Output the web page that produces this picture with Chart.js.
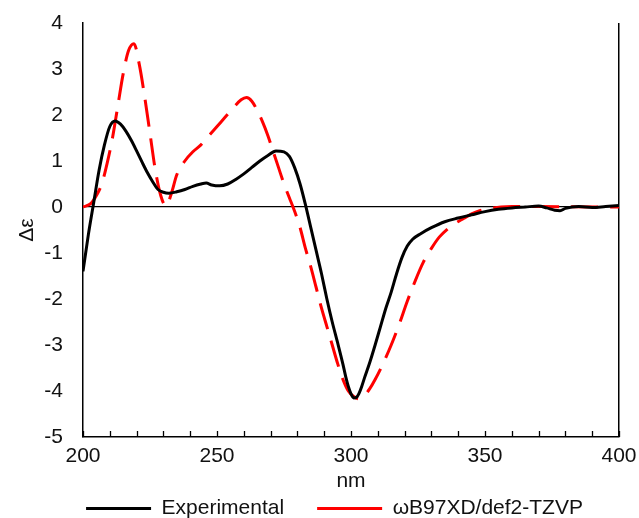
<!DOCTYPE html>
<html>
<head>
<meta charset="utf-8">
<script src="https://cdn.jsdelivr.net/npm/chart.js@4"></script>
<style>
  html, body { margin: 0; padding: 0; background: #fff; }
  #wrap { width: 639px; height: 518px; }
</style>
</head>
<body>
<div id="wrap"><canvas id="cdChart"></canvas></div>
<script>
// ---------- DATA ----------
const expNm = [200,202,204,206,208,210,212,214,216,218,220,222,224,226,228,230,232,235,238,241,244,246,248,251,254,257,260,263,266,269,272,275,277,279,281,283,285,287,289,291,293,295,297,298,299,300,301,302,303,304,305,307,309,311,313,315,317,319,321,323,326,330,335,340,345,350,355,360,365,370,373,376,378,380,385,390,395,400];
const expVal = [-1.4,-0.6,0.1,0.8,1.35,1.75,1.87,1.8,1.65,1.45,1.22,0.98,0.75,0.55,0.38,0.32,0.3,0.33,0.38,0.45,0.5,0.52,0.48,0.46,0.5,0.6,0.72,0.86,1.0,1.12,1.22,1.2,1.1,0.85,0.5,0.05,-0.45,-0.95,-1.45,-2.0,-2.5,-2.95,-3.42,-3.68,-3.9,-4.06,-4.15,-4.14,-4.05,-3.9,-3.72,-3.38,-3.0,-2.6,-2.2,-1.85,-1.45,-1.1,-0.85,-0.7,-0.58,-0.45,-0.32,-0.24,-0.17,-0.1,-0.05,-0.02,0,0.02,-0.02,-0.07,-0.08,-0.03,0.01,-0.01,0.01,0.03];

const calcNm = [200,203,205,207,209,211,213,215,217,219,221,223,225,227,229,231,233,235,238,241,244,247,250,253,256,259,261,263,265,267,269,271,273,275,277,279,281,283,285,287,289,291,293,295,297,299,301,303,305,307,309,312,315,318,321,324,327,330,333,336,339,342,345,348,352,356,360,400];
const calcVal = [0,0.08,0.25,0.5,0.95,1.5,2.2,2.9,3.4,3.55,3.1,2.4,1.6,0.8,0.25,0.02,0.3,0.7,1.0,1.2,1.35,1.55,1.75,1.95,2.15,2.33,2.38,2.3,2.1,1.85,1.55,1.2,0.85,0.5,0.2,-0.1,-0.45,-0.9,-1.3,-1.75,-2.2,-2.6,-3.0,-3.4,-3.75,-4.0,-4.12,-4.17,-4.1,-3.95,-3.75,-3.4,-3.0,-2.55,-2.05,-1.6,-1.2,-0.9,-0.65,-0.48,-0.35,-0.25,-0.15,-0.08,-0.03,0,0.01,0];

const seriesNames = ['Experimental', 'ωB97XD/def2-TZVP'];
const xLimits = [200, 400];
const yLimits = [-5, 4];

const toPoints = (xs, ys) => xs.map((x, i) => ({ x: x, y: ys[i] }));

// inner tick marks on the bottom axis
const innerTicks = {
    id: 'innerTicks',
    beforeDatasetsDraw(chart) {
        const ctx = chart.ctx, xs = chart.scales.x, bottom = chart.chartArea.bottom;
        ctx.save();
        ctx.strokeStyle = '#000';
        ctx.lineWidth = 1.3;
        xs.ticks.forEach(t => {
            const px = Math.round(xs.getPixelForValue(t.value)) + 0.5;
            ctx.beginPath();
            ctx.moveTo(px, bottom);
            ctx.lineTo(px, bottom - 6);
            ctx.stroke();
        });
        ctx.restore();
    }
};

const txt = '#111';
const font = { family: 'Liberation Sans, Arial, sans-serif', size: 21 };

new Chart(document.getElementById('cdChart'), {
    type: 'line',
    data: {
        datasets: [
            { label: seriesNames[0], data: toPoints(expNm, expVal), borderColor: '#000', backgroundColor: '#000', borderWidth: 3, pointRadius: 0, cubicInterpolationMode: 'monotone', order: 1 },
            { label: seriesNames[1], data: toPoints(calcNm, calcVal), borderColor: '#ff0000', backgroundColor: '#ff0000', borderWidth: 3, borderDash: [27, 12], pointRadius: 0, cubicInterpolationMode: 'monotone', order: 2 }
        ]
    },
    options: {
        responsive: true,
        maintainAspectRatio: false,
        animation: false,
        layout: { padding: { left: 44, right: 14, top: 23, bottom: -11 } },
        plugins: {
            legend: {
                position: 'bottom',
                labels: { usePointStyle: true, pointStyle: 'line', pointStyleWidth: 65, color: txt, font: font, padding: 33 }
            },
            tooltip: { enabled: false }
        },
        scales: {
            x: {
                type: 'linear', min: xLimits[0], max: xLimits[1],
                afterFit: s => { s.height = 28; s.paddingLeft = 0; s.paddingRight = 20; },
                ticks: { stepSize: 10, autoSkip: false, maxRotation: 0, padding: 7, color: txt, font: font,
                    callback: v => (v % 50 === 0 ? v : '') },
                grid: { drawTicks: false, lineWidth: 1.5, color: c => (c.tick && c.tick.value === 400 ? '#000' : 'transparent') },
                border: { display: true, color: '#000', width: 1.5 },
                title: { display: true, text: 'nm', color: txt, font: font, padding: { top: 0, bottom: -29 } }
            },
            y: {
                min: yLimits[0], max: yLimits[1],
                afterFit: s => { s.width = 39; s.paddingTop = 0; s.paddingBottom = 0; },
                ticks: { stepSize: 1, padding: 20, color: txt, font: font },
                grid: { drawTicks: false, lineWidth: 1.3, color: c => (c.tick && c.tick.value === 0 ? '#000' : 'transparent') },
                border: { display: true, color: '#000', width: 1.5 },
                title: { display: true, text: 'Δε', color: txt, font: font, padding: { top: -29, bottom: 0 } }
            }
        }
    },
    plugins: [innerTicks]
});
</script>
</body>
</html>
